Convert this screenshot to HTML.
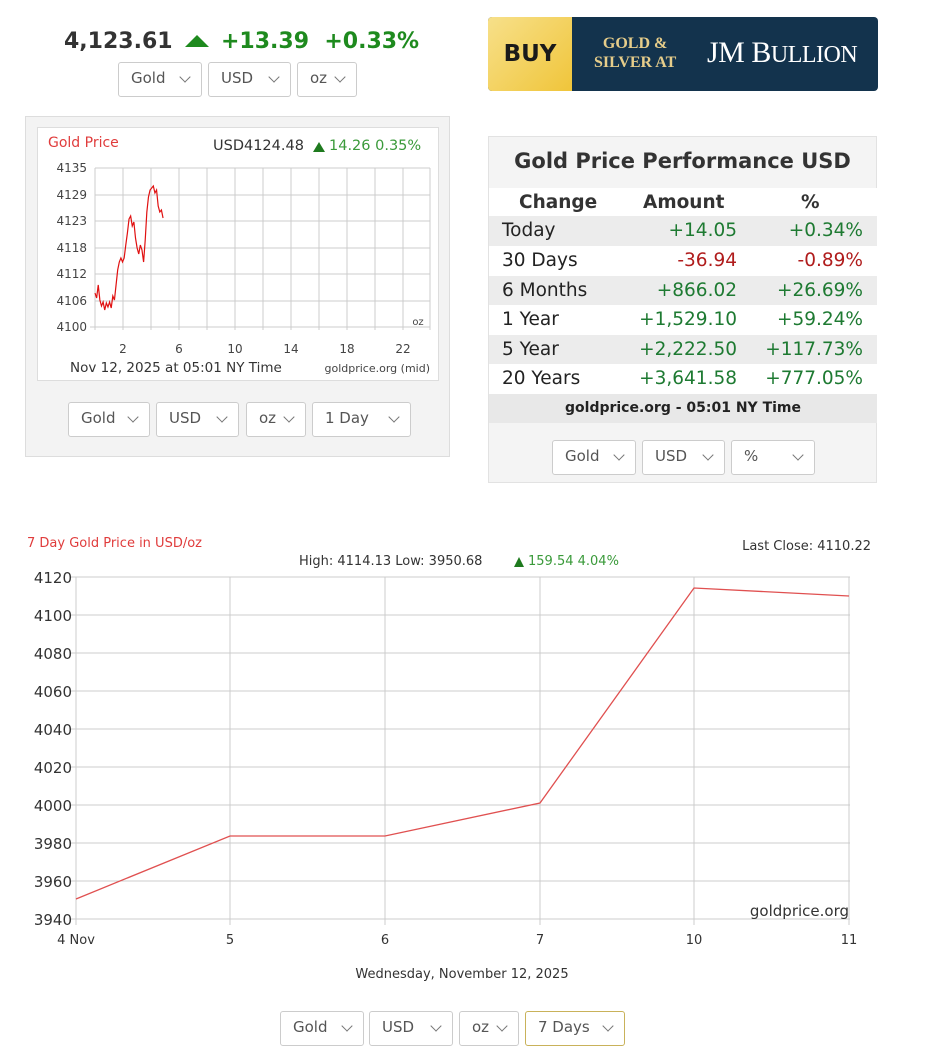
<!DOCTYPE html>
<html><head><meta charset="utf-8"><style>
body{margin:0;background:#fff;width:928px;height:1060px;overflow:hidden;position:relative;font-family:"Liberation Sans","DejaVu Sans",sans-serif}
.a{position:absolute}
.sel{position:absolute;height:33px;border:1px solid #ccc;border-radius:3px;background:#fff;box-sizing:border-box;font-size:15px;color:#555;line-height:31px;padding-left:12px;font-family:"DejaVu Sans",sans-serif}
.sel:after{content:"";position:absolute;right:12px;top:10px;width:7px;height:7px;border-right:1.3px solid #777;border-bottom:1.3px solid #777;transform:rotate(45deg)}
.row{position:absolute;left:489px;width:388px;height:30px;font-family:"DejaVu Sans",sans-serif;font-size:18.5px;line-height:30px;color:#222}
.row span{position:absolute}
.g{color:#1e7a32}.r{color:#b01c1c}
</style></head><body>
<div class="a" style="left:64px;top:29px;font-size:22px;font-weight:bold;color:#333;font-family:'DejaVu Sans',sans-serif">4,123.61</div>
<svg class="a" style="left:185px;top:33px" width="24" height="16"><polygon points="0,14 12,2 24,14" fill="#1e8a1e"/></svg>
<div class="a" style="left:221px;top:29px;font-size:22px;font-weight:bold;color:#1e8a1e;font-family:'DejaVu Sans',sans-serif;white-space:nowrap">+13.39&nbsp;&nbsp;+0.33%</div>
<div class="sel" style="left:118px;top:62px;width:84px;height:35px">Gold</div>
<div class="sel" style="left:208px;top:62px;width:83px;height:35px">USD</div>
<div class="sel" style="left:297px;top:62px;width:60px;height:35px">oz</div>

<div class="a" style="left:488px;top:17px;width:390px;height:74px;border-radius:4px;overflow:hidden;background:#13334d">
<div class="a" style="left:0;top:0;width:84px;height:74px;background:linear-gradient(135deg,#f7e08a,#f0c53a);font:bold 23px 'DejaVu Sans',sans-serif;color:#1a1a1a;line-height:74px;text-align:center">BUY</div>
<div class="a" style="left:106px;top:17px;color:#e6cd8a;font:bold 16px 'Liberation Serif',serif;line-height:19px;text-align:center;white-space:nowrap">GOLD &amp;<br>SILVER AT</div>
<div class="a" style="left:219px;top:19px;color:#fff;font:30px 'Liberation Serif',serif;white-space:nowrap;letter-spacing:-0.5px">JM B<span style="font-size:24px">ULLION</span></div>
</div>

<div class="a" style="left:25px;top:116px;width:425px;height:341px;background:#f3f3f3;border:1px solid #ddd;box-sizing:border-box"></div>
<div class="a" style="left:37px;top:127px;width:402px;height:254px;background:#fff;border:1px solid #ddd;box-sizing:border-box"></div>
<div class="sel" style="left:68px;top:402px;width:82px;height:35px">Gold</div>
<div class="sel" style="left:156px;top:402px;width:83px;height:35px">USD</div>
<div class="sel" style="left:246px;top:402px;width:60px;height:35px">oz</div>
<div class="sel" style="left:312px;top:402px;width:99px;height:35px">1 Day</div>

<div class="a" style="left:488px;top:136px;width:389px;height:347px;background:#f4f4f4;border:1px solid #e2e2e2;box-sizing:border-box"></div>
<div class="a" style="left:489px;top:149px;width:387px;text-align:center;font:bold 21px 'DejaVu Sans',sans-serif;color:#333">Gold Price Performance USD</div>
<div class="row" style="top:188px;background:#fff;font-weight:bold;color:#333"><span style="left:30px">Change</span><span style="left:154px">Amount</span><span style="left:312px">%</span></div>
<div class="row" style="top:216px;background:#ececec"><span style="left:13px">Today</span><span class="g" style="right:140px">+14.05</span><span class="g" style="right:14px">+0.34%</span></div>
<div class="row" style="top:246px;background:#fff"><span style="left:13px">30 Days</span><span class="r" style="right:140px">-36.94</span><span class="r" style="right:14px">-0.89%</span></div>
<div class="row" style="top:276px;background:#ececec"><span style="left:13px">6 Months</span><span class="g" style="right:140px">+866.02</span><span class="g" style="right:14px">+26.69%</span></div>
<div class="row" style="top:305px;background:#fff"><span style="left:13px">1 Year</span><span class="g" style="right:140px">+1,529.10</span><span class="g" style="right:14px">+59.24%</span></div>
<div class="row" style="top:335px;background:#ececec"><span style="left:13px">5 Year</span><span class="g" style="right:140px">+2,222.50</span><span class="g" style="right:14px">+117.73%</span></div>
<div class="row" style="top:364px;background:#fff"><span style="left:13px">20 Years</span><span class="g" style="right:140px">+3,641.58</span><span class="g" style="right:14px">+777.05%</span></div>
<div class="row" style="top:394px;height:29px;background:#e8e8e8;font-size:14px;font-weight:bold;text-align:center;line-height:29px">goldprice.org - 05:01 NY Time</div>
<div class="sel" style="left:552px;top:440px;width:84px;height:35px">Gold</div>
<div class="sel" style="left:642px;top:440px;width:83px;height:35px">USD</div>
<div class="sel" style="left:731px;top:440px;width:84px;height:35px">%</div>

<svg class="a" style="left:0;top:0" width="928" height="1060" font-family="DejaVu Sans, sans-serif">
<g stroke="#ccc" stroke-width="1">
<line x1="95" y1="168" x2="430" y2="168"/><line x1="95" y1="195" x2="430" y2="195"/><line x1="95" y1="221" x2="430" y2="221"/><line x1="95" y1="248" x2="430" y2="248"/><line x1="95" y1="274" x2="430" y2="274"/><line x1="95" y1="301" x2="430" y2="301"/><line x1="90" y1="327" x2="430" y2="327"/>
<line x1="95" y1="168" x2="95" y2="330"/><line x1="123" y1="168" x2="123" y2="330"/><line x1="151" y1="168" x2="151" y2="330"/><line x1="179" y1="168" x2="179" y2="330"/><line x1="207" y1="168" x2="207" y2="330"/><line x1="235" y1="168" x2="235" y2="330"/><line x1="263" y1="168" x2="263" y2="330"/><line x1="291" y1="168" x2="291" y2="330"/><line x1="319" y1="168" x2="319" y2="330"/><line x1="347" y1="168" x2="347" y2="330"/><line x1="375" y1="168" x2="375" y2="330"/><line x1="403" y1="168" x2="403" y2="330"/><line x1="430" y1="168" x2="430" y2="330"/>
</g>
<g font-size="12" fill="#444" text-anchor="end"><text x="87" y="172">4135</text><text x="87" y="199">4129</text><text x="87" y="225">4123</text><text x="87" y="252">4118</text><text x="87" y="278">4112</text><text x="87" y="305">4106</text><text x="87" y="331">4100</text></g>
<g font-size="12" fill="#444" text-anchor="middle"><text x="123" y="353">2</text><text x="179" y="353">6</text><text x="235" y="353">10</text><text x="291" y="353">14</text><text x="347" y="353">18</text><text x="403" y="353">22</text></g>
<text x="418" y="325" font-size="10" fill="#444" text-anchor="middle">oz</text>
<text x="70" y="372" font-size="13.5" fill="#333">Nov 12, 2025 at 05:01 NY Time</text>
<text x="430" y="372" font-size="11" fill="#444" text-anchor="end">goldprice.org (mid)</text>
<text x="48" y="147" font-size="14" fill="#e03c3c">Gold Price</text>
<text x="213" y="150" font-size="14.5" fill="#333">USD4124.48</text>
<polygon points="313,152 319,142 325,152" fill="#1e7a1e"/>
<text x="329" y="150" font-size="14.5" fill="#3a9a3a">14.26 0.35%</text>
<g transform="translate(95,0) scale(0.81,1) translate(-95,0)">
<polyline fill="none" stroke="#e01010" stroke-width="1.2" vector-effect="non-scaling-stroke" points="95,293 97,298 99,285 101,300 103,306 105,302 107,310 109,303 111,307 113,302 115,308 117,296 119,300 121,285 123,270 125,262 127,258 129,262 131,258 133,245 135,233 137,219 139,216 141,226 143,222 145,238 147,248 149,254 151,245 153,250 155,262 157,240 159,212 161,197 163,190 165,188 167,186 169,193 171,190 173,206 175,212 177,210 179,218"/>
</g>

<text x="27" y="547" font-size="13" fill="#e03c3c">7 Day Gold Price in USD/oz</text>
<text x="871" y="550" font-size="13" fill="#333" text-anchor="end">Last Close: 4110.22</text>
<text x="299" y="565" font-size="13" fill="#333">High: 4114.13 Low: 3950.68</text>
<polygon points="514,567 519,557 524,567" fill="#1e7a1e"/>
<text x="528" y="565" font-size="13" fill="#3a9a3a">159.54 4.04%</text>
<g stroke="#ccc" stroke-width="1">
<line x1="70" y1="577" x2="850" y2="577"/><line x1="70" y1="615" x2="850" y2="615"/><line x1="70" y1="653" x2="850" y2="653"/><line x1="70" y1="691" x2="850" y2="691"/><line x1="70" y1="729" x2="850" y2="729"/><line x1="70" y1="767" x2="850" y2="767"/><line x1="70" y1="805" x2="850" y2="805"/><line x1="70" y1="843" x2="850" y2="843"/><line x1="70" y1="881" x2="850" y2="881"/><line x1="70" y1="919" x2="850" y2="919"/>
<line x1="76" y1="577" x2="76" y2="925"/><line x1="230" y1="577" x2="230" y2="925"/><line x1="385" y1="577" x2="385" y2="925"/><line x1="540" y1="577" x2="540" y2="925"/><line x1="694" y1="577" x2="694" y2="925"/><line x1="849" y1="577" x2="849" y2="925"/>
</g>
<g font-size="15" fill="#333" text-anchor="end"><text x="72" y="583">4120</text><text x="72" y="621">4100</text><text x="72" y="659">4080</text><text x="72" y="697">4060</text><text x="72" y="735">4040</text><text x="72" y="773">4020</text><text x="72" y="811">4000</text><text x="72" y="849">3980</text><text x="72" y="887">3960</text><text x="72" y="925">3940</text></g>
<g font-size="13" fill="#333" text-anchor="middle"><text x="76" y="944">4 Nov</text><text x="230" y="944">5</text><text x="385" y="944">6</text><text x="540" y="944">7</text><text x="694" y="944">10</text><text x="849" y="944">11</text></g>
<text x="849" y="916" font-size="15" fill="#333" text-anchor="end">goldprice.org</text>
<text x="462" y="978" font-size="13" fill="#333" text-anchor="middle">Wednesday, November 12, 2025</text>
<polyline fill="none" stroke="#e05050" stroke-width="1.3" points="76,899 230,836 385,836 540,803 694,588 849,596"/>
</svg>
<div class="sel" style="left:280px;top:1011px;width:84px;height:35px">Gold</div>
<div class="sel" style="left:369px;top:1011px;width:84px;height:35px">USD</div>
<div class="sel" style="left:459px;top:1011px;width:60px;height:35px">oz</div>
<div class="sel" style="left:525px;top:1011px;width:100px;height:35px;border-color:#c9b25a">7 Days</div>
</body></html>
